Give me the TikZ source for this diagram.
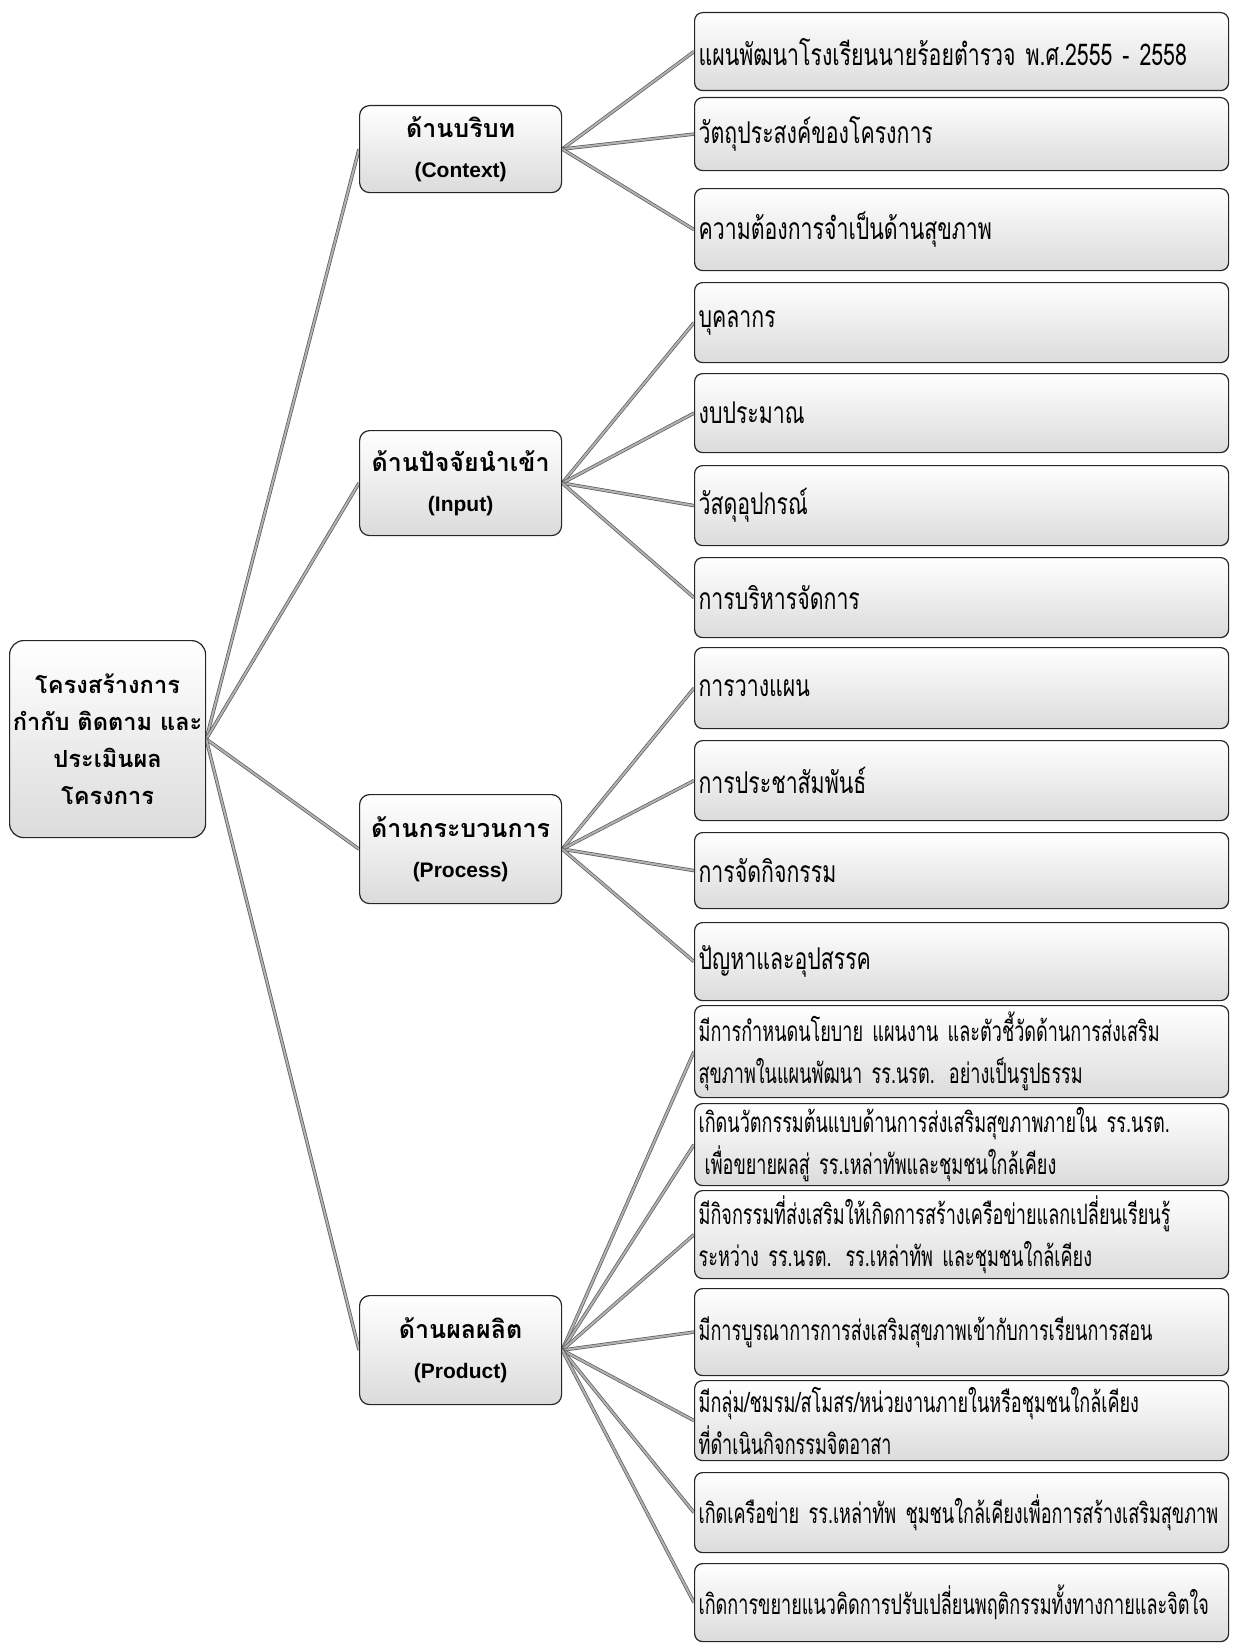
\documentclass[tikz,border=0pt]{standalone}
\usepackage{fontspec}
\newfontfamily\thaifont[Script=Thai,FakeStretch=0.71]{Loma}
\newfontfamily\thainarrow[Script=Thai,FakeStretch=0.645]{Loma}
\newfontfamily\thaibold[Script=Thai]{Loma}
\newfontfamily\latfont{Liberation Sans}
\usetikzlibrary{backgrounds}
\begin{document}
\begin{tikzpicture}[x=0.5pt,y=-0.5pt,
  box/.style={draw=black!85, line width=0.6pt, rounded corners=4pt, top color=white, bottom color=black!14, inner sep=0pt},
  rb/.style={box, anchor=north west, minimum width=267pt, text width=263pt, align=left,
    font=\thaifont\fontsize{15pt}{22pt}\selectfont},
  pb/.style={rb, font=\thainarrow\fontsize{14pt}{21pt}\selectfont},
  mb/.style={box, rounded corners=5pt, anchor=north west, minimum width=101pt, align=center,
    font=\thaibold\bfseries\fontsize{12.5pt}{20pt}\selectfont},
  link/.style={draw=black!65, line width=0.35pt, double=black!30, double distance=1pt}]
\useasboundingbox (0,0) rectangle (1239,1643);
% root
\node[box, rounded corners=7pt, anchor=north west, minimum width=98pt, text width=98pt, minimum height=98.5pt, align=center,
  font=\thaibold\bfseries\fontsize{11.8pt}{18.5pt}\selectfont] (root) at (9,640)
  {โครงสร้างการ\\กำกับ ติดตาม และ\\ประเมินผล\\โครงการ};
% middle
\node[mb, minimum height=43.5pt] (ctx) at (359,105) {ด้านบริบท\\{\latfont\fontsize{10.5pt}{12pt}\selectfont (Context)}};
\node[mb, minimum height=52.5pt] (inp) at (359,430) {ด้านปัจจัยนำเข้า\\{\latfont\fontsize{10.5pt}{12pt}\selectfont (Input)}};
\node[mb, minimum height=54.5pt] (prc) at (359,794) {ด้านกระบวนการ\\{\latfont\fontsize{10.5pt}{12pt}\selectfont (Process)}};
\node[mb, minimum height=54.5pt] (prd) at (359,1295) {ด้านผลผลิต\\{\latfont\fontsize{10.5pt}{12pt}\selectfont (Product)}};
% right boxes
\node[rb, minimum height=39pt] (c1) at (694,12) {แผนพัฒนาโรงเรียนนายร้อยตำรวจ พ.ศ.2555 - 2558};
\node[rb, minimum height=36.5pt] (c2) at (694,97) {วัตถุประสงค์ของโครงการ};
\node[rb, minimum height=41pt] (c3) at (694,188) {ความต้องการจำเป็นด้านสุขภาพ};
\node[rb, minimum height=40pt] (i1) at (694,282) {บุคลากร};
\node[rb, minimum height=39.5pt] (i2) at (694,373) {งบประมาณ};
\node[rb, minimum height=40pt] (i3) at (694,465) {วัสดุอุปกรณ์};
\node[rb, minimum height=40pt] (i4) at (694,557) {การบริหารจัดการ};
\node[rb, minimum height=40.5pt] (p1) at (694,647) {การวางแผน};
\node[rb, minimum height=40pt] (p2) at (694,740) {การประชาสัมพันธ์};
\node[rb, minimum height=38pt] (p3) at (694,832) {การจัดกิจกรรม};
\node[rb, minimum height=39pt] (p4) at (694,922) {ปัญหาและอุปสรรค};
\node[pb, minimum height=46pt] (d1) at (694,1005) {มีการกำหนดนโยบาย แผนงาน และตัวชี้วัดด้านการส่งเสริม\\สุขภาพในแผนพัฒนา รร.นรต. อย่างเป็นรูปธรรม};
\node[pb, minimum height=41pt] (d2) at (694,1103) {เกิดนวัตกรรมต้นแบบด้านการส่งเสริมสุขภาพภายใน รร.นรต.\\\hspace*{3pt}เพื่อขยายผลสู่ รร.เหล่าทัพและชุมชนใกล้เคียง};
\node[pb, minimum height=44pt] (d3) at (694,1190) {มีกิจกรรมที่ส่งเสริมให้เกิดการสร้างเครือข่ายแลกเปลี่ยนเรียนรู้\\ระหว่าง รร.นรต. รร.เหล่าทัพ และชุมชนใกล้เคียง};
\node[pb, minimum height=43.5pt] (d4) at (694,1288) {มีการบูรณาการการส่งเสริมสุขภาพเข้ากับการเรียนการสอน};
\node[pb, minimum height=40pt] (d5) at (694,1380) {มีกลุ่ม/ชมรม/สโมสร/หน่วยงานภายในหรือชุมชนใกล้เคียง\\ที่ดำเนินกิจกรรมจิตอาสา};
\node[pb, minimum height=40pt] (d6) at (694,1472) {เกิดเครือข่าย รร.เหล่าทัพ ชุมชนใกล้เคียงเพื่อการสร้างเสริมสุขภาพ};
\node[pb, minimum height=39pt] (d7) at (694,1563) {เกิดการขยายแนวคิดการปรับเปลี่ยนพฤติกรรมทั้งทางกายและจิตใจ};
% links
\begin{scope}[on background layer]
\foreach \m in {ctx,inp,prc,prd} \draw[link] (root.east) -- (\m.west);
\foreach \r in {c1,c2,c3} \draw[link] (ctx.east) -- (\r.west);
\foreach \r in {i1,i2,i3,i4} \draw[link] (inp.east) -- (\r.west);
\foreach \r in {p1,p2,p3,p4} \draw[link] (prc.east) -- (\r.west);
\foreach \r in {d1,d2,d3,d4,d5,d6,d7} \draw[link] (prd.east) -- (\r.west);
\end{scope}
\end{tikzpicture}
\end{document}
